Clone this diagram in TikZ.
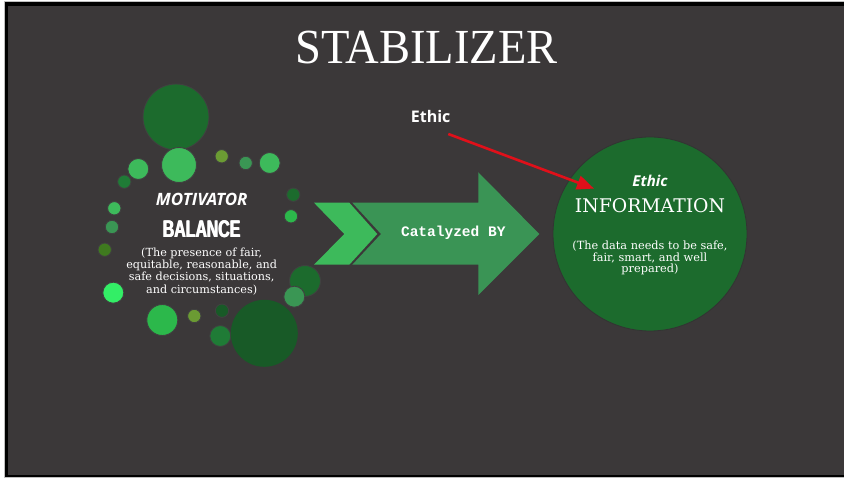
\documentclass[tikz,border=0pt]{standalone}
\usepackage{fontspec}
\setmainfont{Liberation Serif}
\newfontfamily\osans{Open Sans}
\newfontfamily\mserif{DejaVu Serif}
\newfontfamily\monof{Liberation Mono}
\newfontfamily\arialf{Liberation Sans}
\usetikzlibrary{arrows.meta}
\definecolor{bg}{RGB}{59,56,57}
\definecolor{lg}{RGB}{61,186,91}
\definecolor{mg}{RGB}{58,150,84}
\definecolor{dg}{RGB}{28,107,45}
\definecolor{dkg}{RGB}{24,90,39}
\definecolor{brg}{RGB}{44,184,75}
\definecolor{neon}{RGB}{51,238,102}
\definecolor{olv}{RGB}{107,155,51}
\definecolor{dolv}{RGB}{63,122,31}
\definecolor{g2}{RGB}{31,123,54}
\definecolor{arrowlight}{RGB}{61,186,91}
\definecolor{arrowmid}{RGB}{58,148,85}
\definecolor{redline}{RGB}{224,16,26}
\tikzset{
  bub/.style={circle, inner sep=0pt, draw=black!75, line width=0.9pt},
  wtext/.style={text=white, inner sep=0pt, align=center},
  baltxt/.style={wtext, font=\arialf\bfseries\fontsize{24}{28}\selectfont},
  redarrow/.style={draw=redline, line width=2.6pt, -{Triangle[length=17pt,width=14pt]}},
}
\begin{document}
\begin{tikzpicture}[x=1pt,y=-1pt]
\useasboundingbox (0,0) rectangle (844,478);
% frame
\fill[white] (0,0) rectangle (850,478);
\fill[black!25] (3.5,1.5) rectangle (850,478);
\fill[black] (4.5,2.5) rectangle (850,477);
\fill[bg] (8,6.5) rectangle (850,474.5);

% title
\node[wtext, font=\fontsize{49}{52}\selectfont] (title) at (426.5,48) {\scalebox{0.95}[1]{STABILIZER}};

% bubbles
\node[bub, fill=dg, minimum size=66pt] (b1) at (176,117) {};
\node[bub, fill=lg, minimum size=35pt] (b2) at (179,165) {};
\node[bub, fill=lg, minimum size=21pt] (b3) at (138.3,169) {};
\node[bub, fill=g2, minimum size=13.4pt] (b4) at (124.3,181.7) {};
\node[bub, fill=olv, minimum size=13.4pt] (b5) at (221.7,156.3) {};
\node[bub, fill=mg, minimum size=13.4pt] (b6) at (245.7,163) {};
\node[bub, fill=lg, minimum size=21pt] (b7) at (269.7,163) {};
\node[bub, fill=dg, minimum size=13.4pt] (b8) at (293.3,194.7) {};
\node[bub, fill=brg, minimum size=13.4pt] (b9) at (291,216.3) {};
\node[bub, fill=lg, minimum size=13.4pt] (b10) at (114.3,208.3) {};
\node[bub, fill=mg, minimum size=13.4pt] (b11) at (112,227) {};
\node[bub, fill=dolv, minimum size=13.4pt] (b12) at (104.7,249.7) {};
\node[bub, fill=neon, minimum size=21pt] (b13) at (113.3,292.7) {};
\node[bub, fill=dg, minimum size=31pt] (b14) at (305,281) {};
\node[bub, fill=mg, minimum size=21pt] (b15) at (294.3,296.7) {};
\node[bub, fill=brg, minimum size=31pt] (b16) at (162.3,320) {};
\node[bub, fill=olv, minimum size=13.4pt] (b17) at (194.3,316) {};
\node[bub, fill=dkg, minimum size=13.4pt] (b18) at (222,310.7) {};
\node[bub, fill=g2, minimum size=21pt] (b19) at (220.3,336) {};
\node[bub, fill=dkg, draw=none, minimum size=67pt] (b20) at (264.3,333.3) {};

% left texts
\node[wtext, font=\osans\bfseries\itshape\fontsize{17}{20}\selectfont] (motiv) at (201.7,199) {MOTIVATOR};
\node[baltxt] (balA) at (201.2,229.5) {\scalebox{0.66}[1]{BALANCE}};
\node[baltxt] (balB) at (202.2,229.5) {\scalebox{0.66}[1]{BALANCE}};
\node[baltxt] (bal) at (201.7,229.5) {\scalebox{0.66}[1]{BALANCE}};
\node[wtext, font=\mserif\fontsize{11.2}{12.2}\selectfont] (baltext) at (201.7,271.5) {(The presence of fair,\\equitable, reasonable, and\\safe decisions, situations,\\and circumstances)};

% chevron arrow
\fill[arrowlight] (314,202.7) -- (349.3,202.7) -- (377.3,234) -- (349.3,264.7) -- (314,264.7) -- (344.3,234) -- cycle;
\fill[arrowmid] (352.3,202.7) -- (478.3,202.7) -- (478.3,172.3) -- (539.3,234) -- (478.3,295) -- (478.3,264.7) -- (352.3,264.7) -- (381,234) -- cycle;
\node[wtext, font=\monof\bfseries\fontsize{14.5}{16}\selectfont] (cat) at (453.3,232.7) {Catalyzed BY};

% right circle
\node[circle, fill=dg, draw=black!80, line width=0.8pt, minimum size=194pt, inner sep=0pt] (info) at (650,234) {};
\node[wtext, font=\osans\bfseries\itshape\fontsize{15}{17}\selectfont] (ethic2) at (650,181) {Ethic};
\node[wtext, font=\mserif\fontsize{18.8}{20}\selectfont] (infot) at (650,206) {INFORMATION};
\node[wtext, font=\mserif\fontsize{11.3}{11.3}\selectfont] (infotext) at (650,258) {(The data needs to be safe,\\fair, smart, and well\\prepared)};

% ethic label and red arrow
\node[wtext, font=\osans\bfseries\fontsize{16}{18}\selectfont] (ethic) at (430.7,116.7) {Ethic};
\coordinate (estart) at (448.3,134);
\coordinate (eend) at (594,188.6);
\draw[redarrow] (estart) -- (eend);
\end{tikzpicture}
\end{document}
